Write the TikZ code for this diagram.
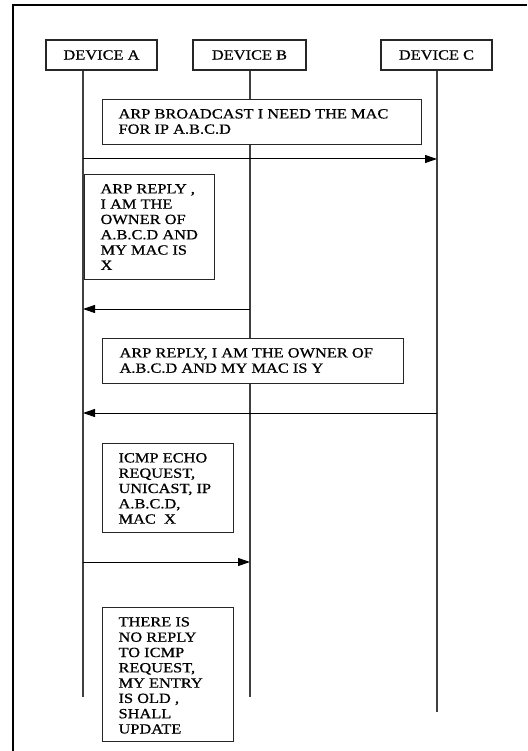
\documentclass[tikz,border=0pt]{standalone}
\usepackage{fontspec}
\setmainfont{Liberation Serif}[FakeStretch=1.17,FakeBold=0.6]
\usetikzlibrary{arrows.meta}
\newcommand{\notetext}[3]{\parbox[c][#2][t]{#1}{\raggedright\leftskip=16pt\vspace*{9.6pt}#3\par}}
\tikzset{
  frameline/.style={line width=2.2pt, black},
  dev/.style={draw=black!85, line width=1.1pt, fill=white, minimum height=30pt, inner sep=0pt},
  note/.style={draw=black!85, line width=1.1pt, fill=white, inner sep=0pt, anchor=north west},
  life/.style={draw=black!75, line width=1.4pt},
  msg/.style={draw=black, line width=1pt, -{Triangle[length=12pt,width=8pt]}},
}
\begin{document}
\begin{tikzpicture}[x=1pt,y=-1pt,font=\fontsize{14}{15.3}\selectfont]
\useasboundingbox (0,0) rectangle (527,751);
\draw[frameline] (13,751) -- (13,5) -- (527,5);

% lifeline coordinates
\coordinate (aTop) at (83,70);  \coordinate (aEnd) at (83,697);
\coordinate (bTop) at (250,70); \coordinate (bEnd) at (250,697);
\coordinate (cTop) at (437,70); \coordinate (cEnd) at (437,712);
\draw[life] (aTop) -- (aEnd);
\draw[life] (bTop) -- (bEnd);
\draw[life] (cTop) -- (cEnd);

% devices
\node[dev, minimum width=111pt] (A) at (101.5,55) {DEVICE A};
\node[dev, minimum width=113pt] (B) at (249.5,55) {DEVICE B};
\node[dev, minimum width=111pt] (C) at (436.5,55) {DEVICE C};

% notes
\node[note] (n1) at (102,99) {\notetext{319pt}{45pt}{ARP BROADCAST I NEED THE MAC\\FOR IP A.B.C.D}};
\node[note] (n2) at (84,174) {\notetext{130pt}{105pt}{ARP REPLY ,\\I AM THE\\OWNER OF\\A.B.C.D AND\\MY MAC IS\\X}};
\node[note] (n3) at (102,338) {\notetext{301pt}{45pt}{\hspace*{1pt}ARP REPLY, I AM THE OWNER OF\\\hspace*{1pt}A.B.C.D AND MY MAC IS Y}};
\node[note] (n4) at (102,443) {\notetext{131pt}{89pt}{ICMP ECHO\\REQUEST,\\UNICAST, IP\\A.B.C.D,\\MAC\ \ X}};
\node[note] (n5) at (102,607) {\notetext{131pt}{134pt}{THERE IS\\NO REPLY\\TO ICMP\\REQUEST,\\MY ENTRY\\IS OLD ,\\SHALL\\UPDATE}};

% messages
\coordinate (a1) at (83,159);  \coordinate (c1) at (437,159);
\coordinate (b2) at (250,309); \coordinate (a2) at (83,309);
\coordinate (c3) at (437,413); \coordinate (a3) at (83,413);
\coordinate (a4) at (83,562);  \coordinate (b4) at (250,562);
\draw[msg] (a1) -- (c1);
\draw[msg] (b2) -- (a2);
\draw[msg] (c3) -- (a3);
\draw[msg] (a4) -- (b4);
\end{tikzpicture}
\end{document}
